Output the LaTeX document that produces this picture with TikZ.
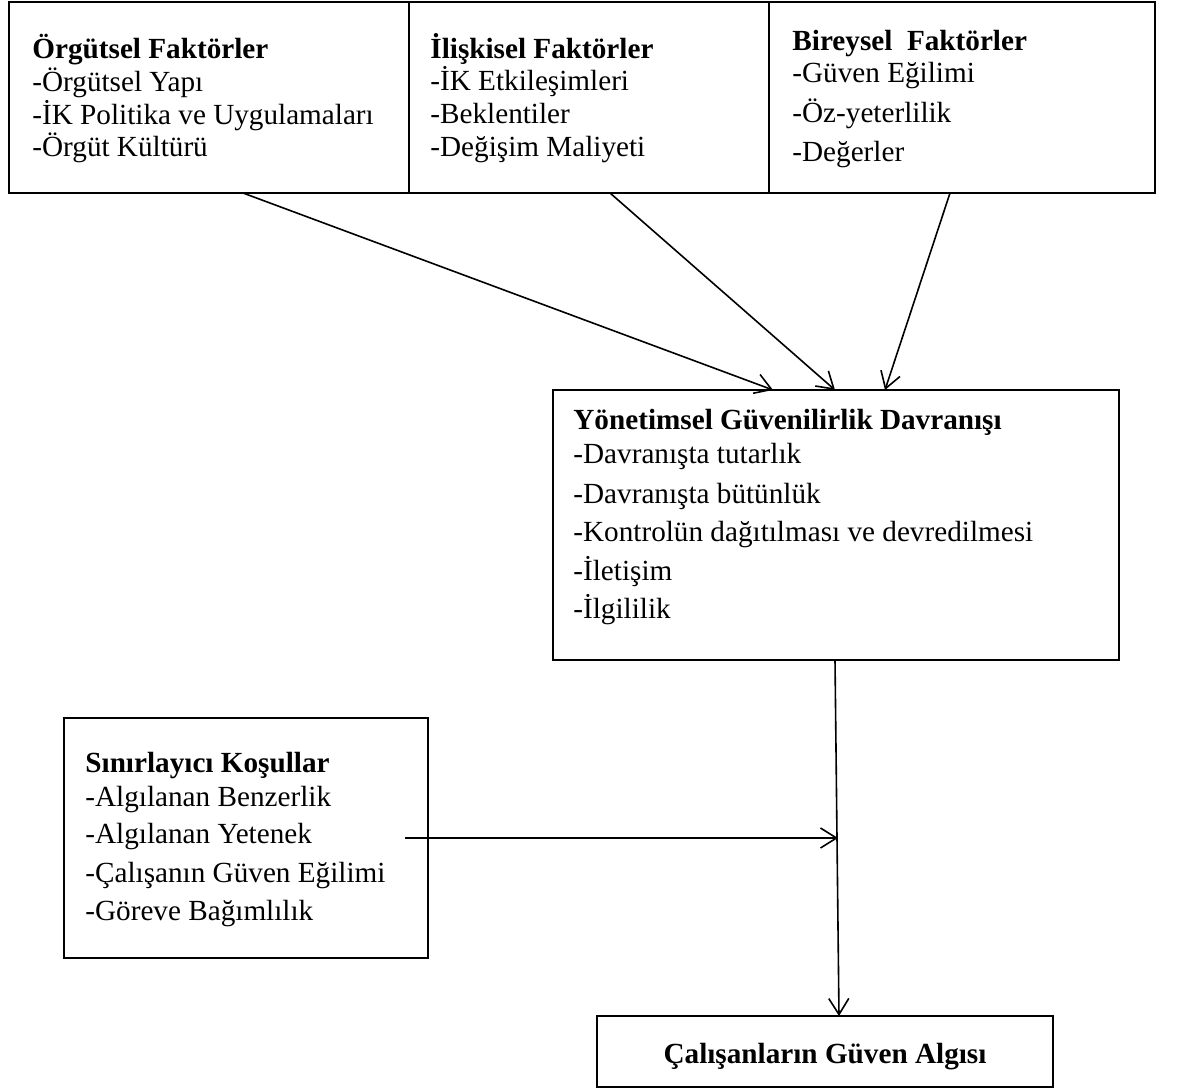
\documentclass[tikz,border=0pt]{standalone}
\usepackage{fontspec}
\setmainfont{Liberation Serif}
\usetikzlibrary{arrows.meta}
\begin{document}
\begin{tikzpicture}[x=0.5pt,y=-0.5pt,
  boxnode/.style={draw=black, line width=1.2pt, inner sep=0pt, rectangle},
  txt/.style={anchor=base west, inner sep=0pt, font=\fontsize{14.6}{17}\selectfont},
  ttl/.style={anchor=base west, inner sep=0pt, font=\fontsize{14.6}{17}\selectfont\bfseries},
  conn/.style={line width=0.8pt, -{Straight Barb[length=8pt,width=10pt,line width=0.8pt]}}]
\useasboundingbox (0,0) rectangle (1177,1090);
\fill[white] (0,0) rectangle (1177,1090);

% boxes
\node[boxnode, minimum width=200pt, minimum height=95.5pt] (org) at (209,97.5) {};
\node[boxnode, minimum width=180pt, minimum height=95.5pt] (ilis) at (589,97.5) {};
\node[boxnode, minimum width=193pt, minimum height=95.5pt] (bir) at (962,97.5) {};
\node[boxnode, minimum width=283pt, minimum height=135pt] (yon) at (836,525) {};
\node[boxnode, minimum width=182pt, minimum height=120pt] (sin) at (246,838) {};
\node[boxnode, minimum width=228pt, minimum height=35.5pt] (cal) at (825,1051.5) {};

% texts
\node[ttl] (o0) at (32,59) {Örgütsel Faktörler};
\node[txt] (o1) at (32,92) {-Örgütsel Yapı};
\node[txt] (o2) at (32,125) {-İK Politika ve Uygulamaları};
\node[txt] (o3) at (32,157) {-Örgüt Kültürü};

\node[ttl] (i0) at (430,59) {İlişkisel Faktörler};
\node[txt] (i1) at (430,91) {-İK Etkileşimleri};
\node[txt] (i2) at (430,124) {-Beklentiler};
\node[txt] (i3) at (430,157) {-Değişim Maliyeti};

\node[ttl] (b0) at (792,51) {Bireysel\ \ Faktörler};
\node[txt] (b1) at (792,83) {-Güven Eğilimi};
\node[txt] (b2) at (792,123) {-Öz-yeterlilik};
\node[txt] (b3) at (792,162) {-Değerler};

\node[ttl] (y0) at (573,430) {Yönetimsel Güvenilirlik Davranışı};
\node[txt] (y1) at (573,464) {-Davranışta tutarlık};
\node[txt] (y2) at (573,503) {-Davranışta bütünlük};
\node[txt] (y3) at (573,541) {-Kontrolün dağıtılması ve devredilmesi};
\node[txt] (y4) at (573,580) {-İletişim};
\node[txt] (y5) at (573,618) {-İlgililik};

\node[ttl] (s0) at (85,772) {Sınırlayıcı Koşullar};
\node[txt] (s1) at (85,806) {-Algılanan Benzerlik};
\node[txt] (s2) at (85,843) {-Algılanan Yetenek};
\node[txt] (s3) at (85,882) {-Çalışanın Güven Eğilimi};
\node[txt] (s4) at (85,920) {-Göreve Bağımlılık};

\node[anchor=base, inner sep=0pt, font=\fontsize{14.6}{17}\selectfont\bfseries] (c0) at (825,1063) {Çalışanların Güven Algısı};

% connectors
\coordinate (a1s) at (243,193);
\coordinate (a1e) at (773,390);
\coordinate (a2s) at (610,193);
\coordinate (a2e) at (835,390);
\coordinate (a3s) at (950,193);
\coordinate (a3e) at (885,390);
\coordinate (v1s) at (835,660);
\coordinate (v1e) at (839,1016);
\coordinate (h1s) at (405,838);
\coordinate (h1e) at (838,838);
\draw[conn] (a1s) -- (a1e);
\draw[conn] (a2s) -- (a2e);
\draw[conn] (a3s) -- (a3e);
\draw[conn] (v1s) -- (v1e);
\draw[conn] (h1s) -- (h1e);
\end{tikzpicture}
\end{document}
